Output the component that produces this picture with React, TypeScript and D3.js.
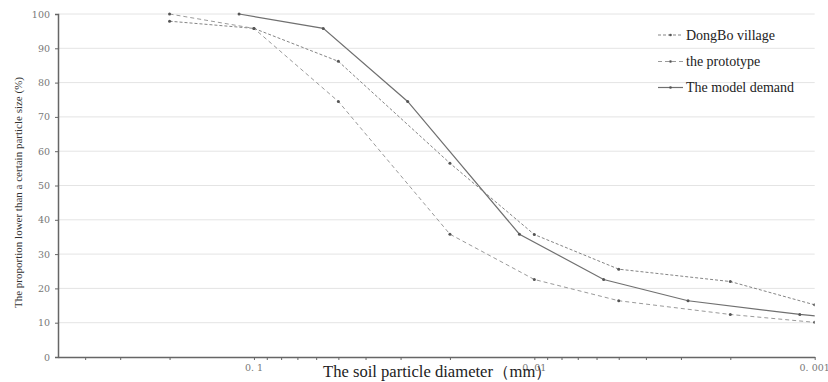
import React, { useEffect, useRef } from 'react';
import * as d3 from 'd3';

// particle diameter (mm) and cumulative percentage
const dongboX = [0.2, 0.1, 0.05, 0.02, 0.01, 0.005, 0.002, 0.001];
const dongboY = [97.9, 95.8, 86.2, 56.5, 35.7, 25.6, 22.0, 15.2];

const protoX = [0.2, 0.1, 0.05, 0.02, 0.01, 0.005, 0.002, 0.001];
const protoY = [100, 95.8, 74.5, 35.8, 22.6, 16.4, 12.4, 10.1];

const modelX = [0.113, 0.0566, 0.0283, 0.0113, 0.00566, 0.00283, 0.00113, 0.000566];
const modelY = [100, 95.8, 74.5, 35.8, 22.6, 16.4, 12.4, 10.1];

const majorTicks = [0.1, 0.01, 0.001];
const majorLabels = ['0. 1', '0. 01', '0. 001'];
const minorTicks = [0.4, 0.3, 0.2, 0.09, 0.08, 0.07, 0.06, 0.05, 0.04, 0.03, 0.02,
  0.009, 0.008, 0.007, 0.006, 0.005, 0.004, 0.003, 0.002];
const yTicks = [0, 10, 20, 30, 40, 50, 60, 70, 80, 90, 100];

const seriesNames = ['DongBo village', 'the prototype', 'The model demand'];

const App = () => {
  const svgRef = useRef<SVGSVGElement>(null);

  useEffect(() => {
    const width = 828;
    const height = 382;
    const left = 58, right = 814.7, top = 14, bottom = 357;

    const svg = d3.select(svgRef.current);
    svg.selectAll('*').remove();
    svg.attr('width', width).attr('height', height);

    const x = d3.scaleLog().domain([0.5, 0.001]).range([left, right]);
    const y = d3.scaleLinear().domain([0, 100]).range([bottom, top]);

    svg.append('defs').append('clipPath').attr('id', 'plot-clip')
      .append('rect').attr('x', left).attr('y', 0).attr('width', right - left).attr('height', bottom);

    // gridlines
    svg.append('g')
      .selectAll('line')
      .data(yTicks.filter(d => d > 0))
      .join('line')
      .attr('x1', left).attr('x2', right)
      .attr('y1', d => y(d)).attr('y2', d => y(d))
      .attr('stroke', '#e4e4e4').attr('stroke-width', 1);

    // y axis
    const yAxis = svg.append('g').attr('transform', `translate(${left},0)`)
      .call(d3.axisLeft(y).tickValues(yTicks).tickSize(3).tickPadding(5))
      .attr('font-family', '"DejaVu Serif", serif')
      .attr('font-size', 9.5);
    yAxis.select('.domain').attr('stroke', '#666').attr('stroke-width', 1.5);
    yAxis.selectAll('.tick line').attr('stroke', '#666');
    yAxis.selectAll('.tick text').attr('fill', '#777');

    // x axis
    const xAxis = svg.append('g').attr('transform', `translate(0,${bottom})`)
      .call(d3.axisBottom(x).tickValues([...majorTicks, ...minorTicks]).tickSize(3)
        .tickSizeOuter(0).tickFormat(() => ''));
    xAxis.select('.domain').attr('stroke', '#666').attr('stroke-width', 1.5);
    xAxis.selectAll('.tick line').attr('stroke', '#666');

    svg.append('g')
      .selectAll('text')
      .data(majorTicks)
      .join('text')
      .attr('x', d => x(d))
      .attr('y', bottom + 14)
      .attr('text-anchor', 'middle')
      .attr('font-family', '"DejaVu Serif", serif')
      .attr('font-size', 9.5)
      .attr('fill', '#777')
      .text((d, i) => majorLabels[i]);

    const series = [
      { xs: dongboX, ys: dongboY, color: '#858585', dash: '3,2', width: 1 },
      { xs: protoX, ys: protoY, color: '#9a9a9a', dash: '4,3', width: 1 },
      { xs: modelX, ys: modelY, color: '#707070', dash: null, width: 1.2 },
    ];

    const line = d3.line<[number, number]>().x(d => x(d[0])).y(d => y(d[1]));
    const plot = svg.append('g').attr('clip-path', 'url(#plot-clip)');

    series.forEach(s => {
      const pts = s.xs.map((v, i) => [v, s.ys[i]] as [number, number]);
      plot.append('path')
        .datum(pts)
        .attr('fill', 'none')
        .attr('stroke', s.color)
        .attr('stroke-width', s.width)
        .attr('stroke-dasharray', s.dash)
        .attr('d', line);
      plot.selectAll(null)
        .data(pts)
        .join('circle')
        .attr('cx', d => x(d[0]))
        .attr('cy', d => y(d[1]))
        .attr('r', 1.5)
        .attr('fill', '#555');
    });

    // legend
    const legendY = [35, 61.5, 87.5];
    series.forEach((s, i) => {
      const g = svg.append('g').attr('transform', `translate(658,${legendY[i]})`);
      g.append('line').attr('x1', 0).attr('x2', 25).attr('y1', 0).attr('y2', 0)
        .attr('stroke', s.color).attr('stroke-width', s.width)
        .attr('stroke-dasharray', s.dash);
      g.append('circle').attr('cx', 12.5).attr('cy', 0).attr('r', 1.3).attr('fill', '#555');
      g.append('text').attr('x', 28).attr('y', 0).attr('dy', '0.35em')
        .attr('font-family', '"Liberation Serif", "Times New Roman", serif')
        .attr('font-size', 14).attr('fill', '#222')
        .text(seriesNames[i]);
    });

    // axis titles
    svg.append('text')
      .attr('x', 437.5).attr('y', 377)
      .attr('text-anchor', 'middle')
      .attr('font-family', '"Liberation Serif", "Times New Roman", serif')
      .attr('font-size', 16).attr('fill', '#222')
      .attr('textLength', 229).attr('lengthAdjust', 'spacingAndGlyphs')
      .text('The soil particle diameter（mm）');

    svg.append('text')
      .attr('transform', 'translate(18,192.5) rotate(-90)')
      .attr('text-anchor', 'middle')
      .attr('dy', '0.35em')
      .attr('font-family', '"Liberation Serif", "Times New Roman", serif')
      .attr('font-size', 11).attr('fill', '#333')
      .attr('textLength', 231).attr('lengthAdjust', 'spacingAndGlyphs')
      .text('The proportion lower than a  certain particle size (%)');
  }, []);

  return (
    <svg ref={svgRef} style={{ position: 'absolute', left: 0, top: 0, background: '#fff' }}></svg>
  );
};

export default App;
